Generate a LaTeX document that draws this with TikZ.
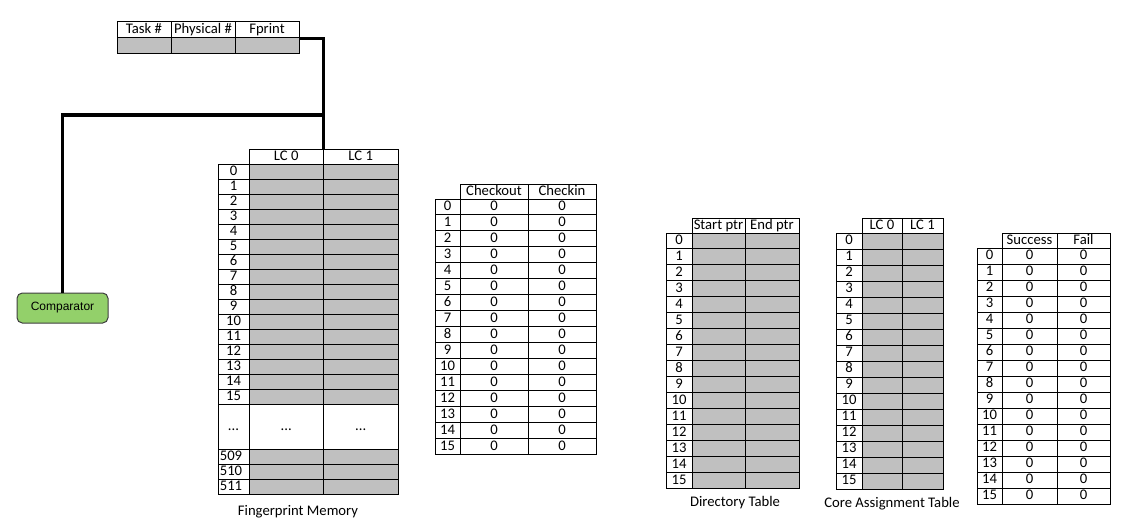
\documentclass[tikz,border=0pt]{standalone}
\usepackage{fontspec}
\setmainfont{Carlito}
\newfontfamily\arialf{Liberation Sans}
\definecolor{cellgray}{HTML}{C0C0C0}
\definecolor{compgreen}{HTML}{93D06A}
\definecolor{compborder}{HTML}{3F3F3F}
\tikzset{
  cell/.style={draw=black, line width=0.75pt},
  txt/.style={font=\fontsize{11}{13}\selectfont, inner sep=0pt, text height=1.45ex, text depth=0.2ex, anchor=center},
  conn/.style={draw=black, line width=2.3pt},
  comp/.style={draw=compborder, fill=compgreen, line width=0.75pt, rounded corners=4pt, font=\arialf\fontsize{9}{11}\selectfont, minimum width=68.25pt, minimum height=22.5pt, inner sep=0pt},
  caption/.style={font=\fontsize{11}{13}\selectfont, inner sep=0pt, anchor=center},
}
% rows of a 16-row table: name, x0, x1, x2, x3, ytop, rowh, zeros(1)/gray(0)
\newcommand\mkrows[8]{%
  \ifnum#8=0 \fill[cellgray] (#3,#6) rectangle (#5,{#6+16*#7}); \fi
  \foreach \i in {0,...,15}{
    \pgfmathsetmacro\ya{#6+\i*#7}
    \pgfmathsetmacro\yb{#6+(\i+1)*#7}
    \pgfmathsetmacro\ym{#6+(\i+0.5)*#7}
    \draw[cell] (#2,\ya) rectangle (#3,\yb);
    \draw[cell] (#3,\ya) rectangle (#4,\yb);
    \draw[cell] (#4,\ya) rectangle (#5,\yb);
    \node[txt] (#1-i\i) at ({(#2+#3)/2},\ym) {\i};
    \ifnum#8=1
      \node[txt] (#1-a\i) at ({(#3+#4)/2},\ym) {0};
      \node[txt] (#1-b\i) at ({(#4+#5)/2},\ym) {0};
    \fi
  }}
% header: name, x1, x2, x3, ytop, ybottom, text1, text2
\newcommand\mkhead[8]{%
  \draw[cell] (#2,#5) rectangle (#3,#6);
  \draw[cell] (#3,#5) rectangle (#4,#6);
  \node[txt] (#1-h1) at ({(#2+#3)/2},{(#5+#6)/2}) {#7};
  \node[txt] (#1-h2) at ({(#3+#4)/2},{(#5+#6)/2}) {#8};
}
\begin{document}
\begin{tikzpicture}[x=0.75pt,y=-0.75pt]
\useasboundingbox (0,0) rectangle (1128,528);
\fill[white] (0,0) rectangle (1128,528);

% ---------- top table ----------
\fill[cellgray] (117,38) rectangle (299,54);
\foreach \xa/\xb in {117/171,171/235,235/299}{
  \draw[cell] (\xa,22) rectangle (\xb,38);
  \draw[cell] (\xa,38) rectangle (\xb,54);
}
\node[txt] (tt-task) at (144,30) {Task \#};
\node[txt] (tt-phys) at (203,30) {Physical \#};
\node[txt] (tt-fp) at (267,30) {Fprint};
\coordinate (fpout) at (299,38.5);

% ---------- comparator ----------
\node[comp] (cmp) at (62.5,308) {Comparator};

% ---------- fingerprint memory ----------
\fill[cellgray] (249,164) rectangle (398,404);
\fill[cellgray] (249,449) rectangle (398,494);
\mkhead{fm}{249}{323.5}{398}{149}{164}{LC 0}{LC 1}
\foreach \i in {0,...,15}{
  \pgfmathsetmacro\ya{164+\i*15}
  \pgfmathsetmacro\yb{164+(\i+1)*15}
  \foreach \xa/\xb in {218/249,249/323.5,323.5/398}{
    \draw[cell] (\xa,\ya) rectangle (\xb,\yb);
  }
  \node[txt] (fm-i\i) at (233.5,{\ya+7.5}) {\i};
}
\foreach \xa/\xb/\nm in {218/249/a,249/323.5/b,323.5/398/c}{
  \draw[cell] (\xa,404) rectangle (\xb,449);
  \node[txt] (fm-dots\nm) at ({(\xa+\xb)/2},426.5) {...};
}
\foreach \r/\ya/\yb in {509/449/464,510/464/479,511/479/494}{
  \foreach \xa/\xb in {218/249,249/323.5,323.5/398}{
    \draw[cell] (\xa,\ya) rectangle (\xb,\yb);
  }
  \node[txt] (fm-i\r) at (231,{(\ya+\yb)/2}) {\r};
}
\node[caption] (fm-cap) at (298,512) {Fingerprint Memory};
\coordinate (fmtop) at (323.5,149);
\coordinate (junc) at (323.5,115);

% ---------- checkout / checkin ----------
\mkhead{co}{460}{528}{596}{184}{199}{Checkout}{Checkin}
\mkrows{co}{435}{460}{528}{596}{199}{15.94}{1}

% ---------- directory table ----------
\mkhead{dt}{692}{745}{799}{218}{233}{Start ptr}{End ptr}
\mkrows{dt}{666}{692}{745}{799}{233}{15.94}{0}
\node[caption] (dt-cap) at (735,503) {Directory Table};

% ---------- core assignment table ----------
\mkhead{ca}{862}{902}{943}{218}{233}{LC 0}{LC 1}
\mkrows{ca}{836}{862}{902}{943}{233}{16}{0}
\node[caption] (ca-cap) at (892,504) {Core Assignment Table};

% ---------- success / fail ----------
\mkhead{sf}{1002}{1057}{1110}{233}{248}{Success}{Fail}
\mkrows{sf}{977}{1002}{1057}{1110}{248}{16}{1}

% ---------- connectors ----------
\draw[conn] (fpout) -| (fmtop);
\draw[conn] (junc) -| (cmp.north);
\end{tikzpicture}
\end{document}
